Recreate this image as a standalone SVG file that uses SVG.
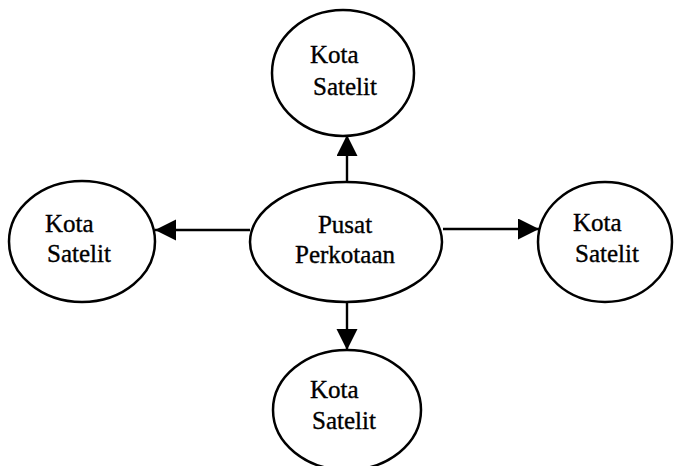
<svg xmlns="http://www.w3.org/2000/svg" width="674" height="466" viewBox="0 0 674 466">
  <defs>
    <style>
      .node ellipse { fill: #ffffff; stroke: #000000; stroke-width: 2.5; }
      .node text { font-family: "Liberation Serif", "Times New Roman", serif; font-size: 25px; fill: #000000; stroke: #000000; stroke-width: 0.35; }
      .conn line { stroke: #000000; stroke-width: 2.4; }
    </style>
    <marker id="arrow" markerUnits="userSpaceOnUse" markerWidth="22" markerHeight="22" refX="21" refY="10.5" orient="auto">
      <path d="M0,0 L21,10.5 L0,21 Z" fill="#000000"/>
    </marker>
  </defs>
  <rect width="674" height="466" fill="#ffffff"/>

  <g id="connectors" class="conn">
    <line x1="347" y1="182" x2="347" y2="135" marker-end="url(#arrow)"/>
    <line x1="347" y1="302" x2="347" y2="350" marker-end="url(#arrow)"/>
    <line x1="250" y1="230" x2="155" y2="230" marker-end="url(#arrow)"/>
    <line x1="443" y1="229" x2="539" y2="229" marker-end="url(#arrow)"/>
  </g>

  <g id="pusat" class="node">
    <ellipse cx="346" cy="242" rx="96" ry="60"/>
    <text x="345" y="233" text-anchor="middle">Pusat</text>
    <text x="345" y="263" text-anchor="middle">Perkotaan</text>
  </g>

  <g id="satelit-top" class="node">
    <ellipse cx="343" cy="73" rx="71" ry="63"/>
    <text x="310" y="63">Kota</text>
    <text x="313" y="95">Satelit</text>
  </g>

  <g id="satelit-left" class="node">
    <ellipse cx="82" cy="241.5" rx="73" ry="60.5"/>
    <text x="45" y="232">Kota</text>
    <text x="47" y="262">Satelit</text>
  </g>

  <g id="satelit-right" class="node">
    <ellipse cx="605" cy="242" rx="67" ry="60"/>
    <text x="573" y="231">Kota</text>
    <text x="575" y="262">Satelit</text>
  </g>

  <g id="satelit-bottom" class="node">
    <ellipse cx="347" cy="410" rx="74" ry="60"/>
    <text x="310" y="398">Kota</text>
    <text x="312" y="429">Satelit</text>
  </g>
</svg>
